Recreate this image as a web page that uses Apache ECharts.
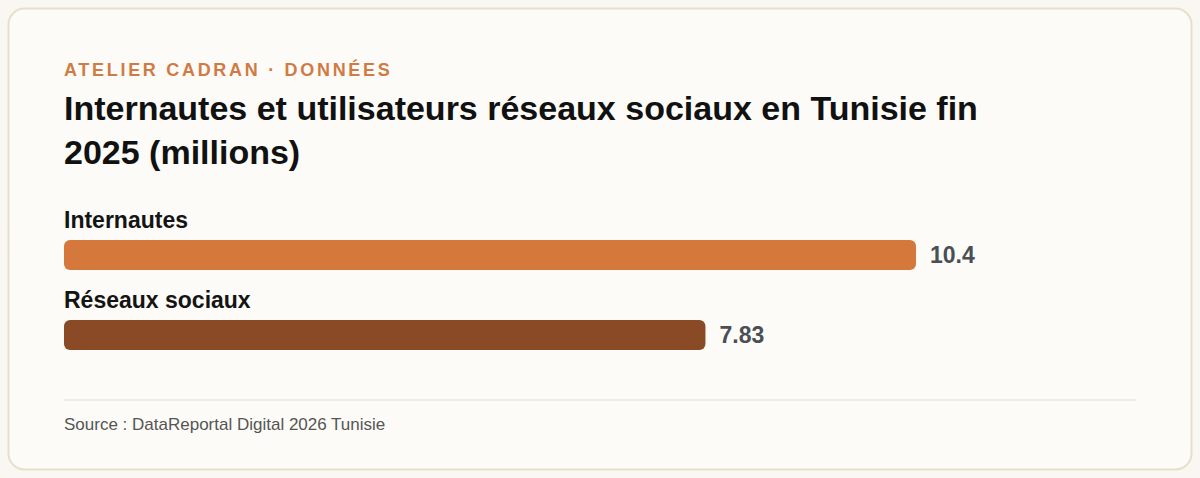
<!DOCTYPE html>
<html>
<head>
<meta charset="utf-8">
<script src="https://cdn.jsdelivr.net/npm/echarts@6/dist/echarts.min.js"></script>
<style>
  html, body { margin: 0; padding: 0; background: #f9f7f2; }
  #chart { width: 1200px; height: 478px; }
  /* espacement des lettres du surtitre */
  #chart svg text[fill="#d07b45"] { letter-spacing: 2.7px; }
</style>
</head>
<body>
<div id="chart"></div>
<script>
// données
const categories = ["Internautes", "Réseaux sociaux"];
const values = [10.4, 7.83];
const barColors = ["#d4783c", "#8b4a26"];

const kicker = "ATELIER CADRAN · DONNÉES";
const titleText = "Internautes et utilisateurs réseaux sociaux en Tunisie fin\n2025 (millions)";
const sourceText = "Source : DataReportal Digital 2026 Tunisie";

const font = '"Liberation Sans", Arial, sans-serif';

let chart = echarts.init(document.getElementById("chart"), null, { renderer: "svg" });

let option = {
  backgroundColor: "#f9f7f2",
  animation: false,
  textStyle: { fontFamily: font },
  graphic: [
    {
      type: "rect",
      z: -10,
      shape: { x: 8.5, y: 8.5, width: 1183, height: 461, r: 16 },
      style: { fill: "#fcfbf7", stroke: "#e6e0cb", lineWidth: 2 }
    },
    {
      type: "line",
      shape: { x1: 64, y1: 400, x2: 1136, y2: 400 },
      style: { stroke: "#ebe7df", lineWidth: 1.5 }
    }
  ],
  title: [
    {
      text: kicker,
      left: 64,
      top: 61,
      padding: 0,
      textStyle: {
        fontFamily: font,
        fontSize: 18,
        fontWeight: "bold",
        color: "#d07b45"
      }
    },
    {
      text: titleText,
      left: 64,
      top: 86,
      padding: 0,
      textStyle: {
        fontFamily: font,
        fontSize: 34,
        fontWeight: "bold",
        lineHeight: 44,
        color: "#111111"
      }
    },
    {
      text: sourceText,
      left: 64,
      top: 416,
      padding: 0,
      textStyle: {
        fontFamily: font,
        fontSize: 17,
        fontWeight: "normal",
        color: "#555555"
      }
    }
  ],
  grid: {
    left: 64,
    right: 71,
    top: 215,
    height: 160
  },
  xAxis: {
    type: "value",
    min: 0,
    max: 13,
    show: false
  },
  yAxis: {
    type: "category",
    data: categories,
    inverse: true,
    show: false
  },
  series: [
    {
      // libellés des catégories au-dessus des barres
      type: "bar",
      data: values,
      barWidth: 30,
      barGap: "-100%",
      silent: true,
      itemStyle: { color: "rgba(0,0,0,0)" },
      label: {
        show: true,
        position: [0, -32],
        formatter: "{b}",
        fontFamily: font,
        fontSize: 23,
        fontWeight: "bold",
        color: "#141414"
      }
    },
    {
      type: "bar",
      data: values.map(function (v, i) {
        return { value: v, itemStyle: { color: barColors[i] } };
      }),
      barWidth: 30,
      itemStyle: { borderRadius: 6 },
      label: {
        show: true,
        position: "right",
        distance: 14,
        formatter: function (p) { return String(p.value); },
        fontFamily: font,
        fontSize: 23,
        fontWeight: "bold",
        color: "#4a4e55"
      }
    }
  ]
};

chart.setOption(option);
</script>
</body>
</html>
